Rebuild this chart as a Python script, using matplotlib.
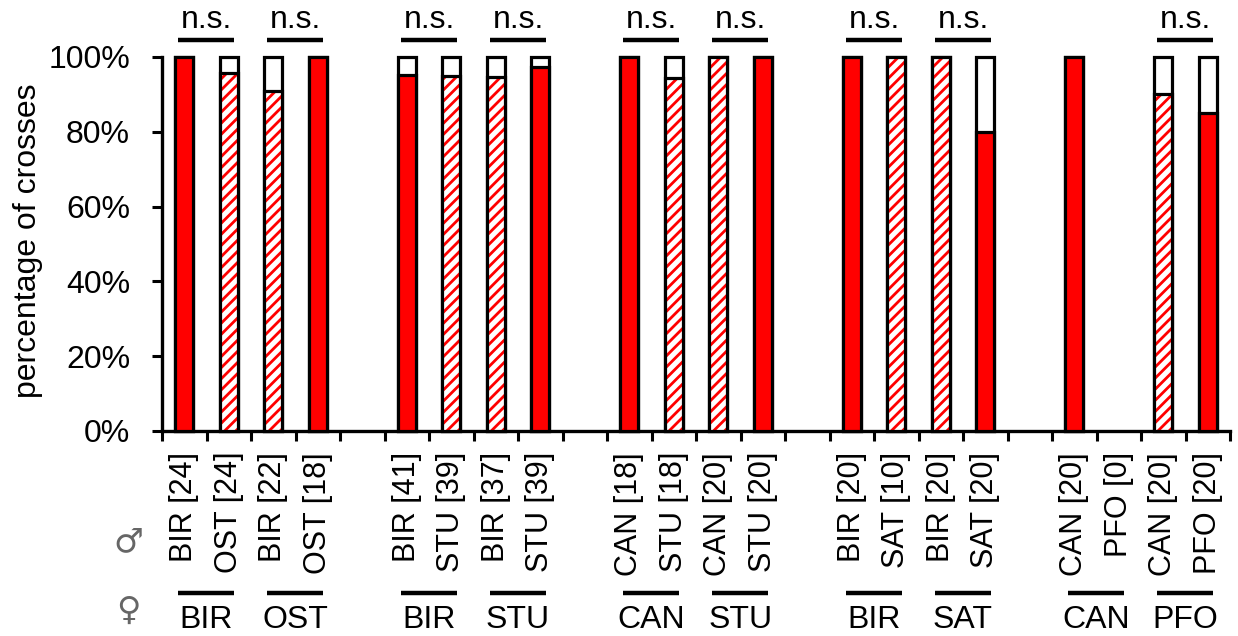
import matplotlib
matplotlib.use("Agg")
import matplotlib.pyplot as plt
from matplotlib.ticker import PercentFormatter

plt.rcParams['font.family'] = ['Liberation Sans', 'DejaVu Sans']
plt.rcParams['hatch.linewidth'] = 2.0

# ---- data ----
male = ["BIR", "OST", "BIR", "OST", None,
        "BIR", "STU", "BIR", "STU", None,
        "CAN", "STU", "CAN", "STU", None,
        "BIR", "SAT", "BIR", "SAT", None,
        "CAN", "PFO", "CAN", "PFO"]
counts = [24, 24, 22, 18, None,
          41, 39, 37, 39, None,
          18, 18, 20, 20, None,
          20, 10, 20, 20, None,
          20, 0, 20, 20]
percent = [100, 95.8, 90.9, 100, None,
           95.1, 94.9, 94.6, 97.4, None,
           100, 94.4, 100, 100, None,
           100, 100, 100, 80, None,
           100, None, 90, 85]
hatched = [False, True, True, False, None,
           False, True, True, False, None,
           False, True, True, False, None,
           False, True, True, False, None,
           False, False, True, False]
female_groups = ["BIR", "OST", "BIR", "STU", "CAN", "STU", "BIR", "SAT", "CAN", "PFO"]
group_start = [0, 2, 5, 7, 10, 12, 15, 17, 20, 22]
significance = ["n.s.", "n.s.", "n.s.", "n.s.", "n.s.", "n.s.", "n.s.", "n.s.", "", "n.s."]

RED = "#ff0000"
FS = 23
FS_MALE = 22

fig = plt.figure(figsize=(12.38, 6.36), dpi=100)
ax = fig.add_axes([162/1238, 205/636, 1068/1238, 374/636])

bw = 0.40
lw = 2.3
for i, (p, h, n) in enumerate(zip(percent, hatched, counts)):
    if p is None or not n:
        continue
    frac = p / 100.0
    ax.bar(i, 1.0, width=bw, color="white", edgecolor="black", linewidth=lw, clip_on=False, zorder=2)
    if h:
        ax.bar(i, frac, width=bw, color="white", edgecolor=RED, hatch="///", linewidth=0, clip_on=False, zorder=3)
        ax.bar(i, frac, width=bw, fill=False, edgecolor="black", linewidth=lw, clip_on=False, zorder=4)
    else:
        ax.bar(i, frac, width=bw, color=RED, edgecolor="black", linewidth=lw, clip_on=False, zorder=3)

ncat = len(male)
ax.set_xlim(-0.5, ncat - 0.5)
ax.set_ylim(0, 1)
ax.set_xticks([k - 0.5 for k in range(ncat + 1)])
ax.set_xticklabels([])
ax.set_yticks([0, 0.2, 0.4, 0.6, 0.8, 1.0])
ax.yaxis.set_major_formatter(PercentFormatter(1.0, decimals=0))
ax.tick_params(axis='y', labelsize=FS, length=7, width=2.2, pad=16, direction='out')
ax.tick_params(axis='x', length=7, width=2.2, direction='out')
for s in ['top', 'right']:
    ax.spines[s].set_visible(False)
for s in ['left', 'bottom']:
    ax.spines[s].set_linewidth(2.4)

fig.text(28/1238, 1 - 241/636, "percentage of crosses", rotation=90, fontsize=FS,
         ha='center', va='center')

# male labels
for i, (m, n) in enumerate(zip(male, counts)):
    if m is None:
        continue
    ax.text(i, -0.056, f"{m} [{n}]", rotation=90, ha='center', va='top',
            fontsize=FS_MALE, transform=ax.get_xaxis_transform())

# female groups and significance
for g, s0, sig in zip(female_groups, group_start, significance):
    x0, x1 = s0 - 0.13, s0 + 1 + 0.12
    ax.plot([x0, x1], [-0.433, -0.433], color='black', lw=3.2,
            transform=ax.get_xaxis_transform(), clip_on=False, solid_capstyle='butt')
    ax.text(s0 + 0.5, -0.505, g, ha='center', va='center', fontsize=FS,
            transform=ax.get_xaxis_transform())
    if sig:
        ax.plot([x0, x1], [1.045, 1.045], color='black', lw=3.2,
                transform=ax.get_xaxis_transform(), clip_on=False, solid_capstyle='butt')
        ax.text(s0 + 0.5, 1.077, sig, ha='center', va='baseline', fontsize=FS,
                transform=ax.get_xaxis_transform())

fig.text(128/1238, 1 - 542/636, "♂", fontsize=24, ha='center', va='center',
         color='#666666', family=['DejaVu Sans'])
fig.text(128/1238, 1 - 610/636, "♀", fontsize=24, ha='center', va='center',
         color='#666666', family=['DejaVu Sans'])

fig.savefig("out.png", dpi=100)
